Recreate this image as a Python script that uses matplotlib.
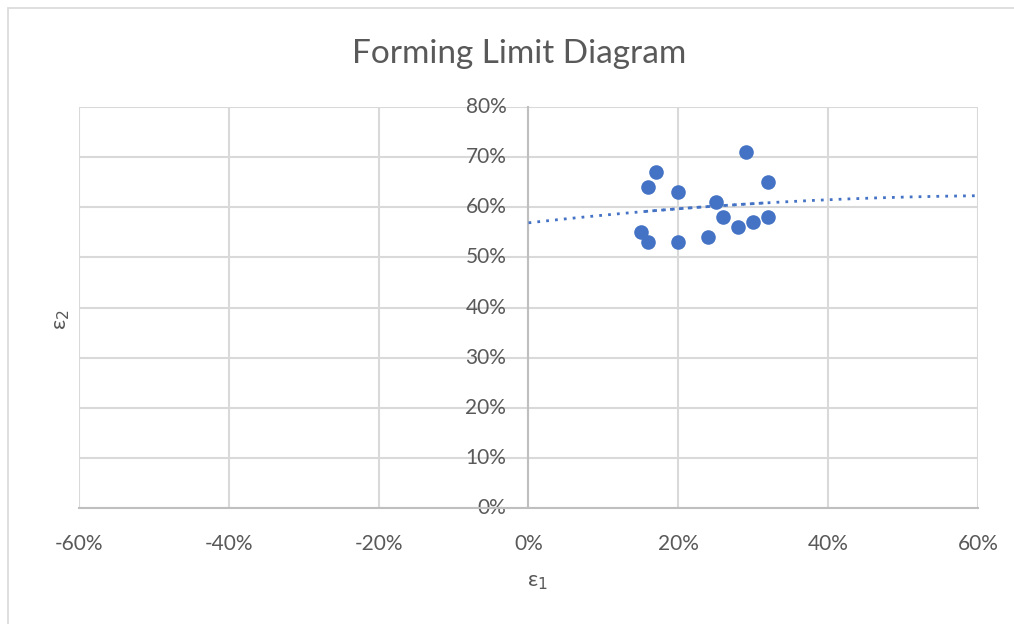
#!/usr/bin/env python3
"""Forming limit diagram: scatter of strain points with a dotted polynomial trendline"""

import matplotlib.pyplot as plt
import matplotlib.patches as patches
from matplotlib.ticker import PercentFormatter
import numpy as np

# strain points (fractions)
eps1 = [0.15, 0.16, 0.16, 0.17, 0.20, 0.20, 0.24, 0.25, 0.26, 0.28, 0.29, 0.30, 0.32, 0.32]
eps2 = [0.55, 0.53, 0.64, 0.67, 0.63, 0.53, 0.54, 0.61, 0.58, 0.56, 0.71, 0.57, 0.65, 0.58]

# trendline coefficients (2nd order polynomial)
trend_coef = [-0.125, 0.165, 0.569]
trend_range = [0.0, 0.6]

x_ticks = [-0.6, -0.4, -0.2, 0.0, 0.2, 0.4, 0.6]
y_ticks = [0.0, 0.1, 0.2, 0.3, 0.4, 0.5, 0.6, 0.7, 0.8]

FONT = ['Lato', 'DejaVu Sans']
TEXT_COLOR = '#595959'
GRID_COLOR = '#d9d9d9'
BLUE = '#4472c4'

plt.rcParams['font.family'] = FONT
plt.rcParams['axes.unicode_minus'] = False

fig = plt.figure(figsize=(10.14, 6.24), dpi=100)
ax = fig.add_axes([0.0779, 0.1859, 0.8866, 0.6426])

# outer chart frame
fig.patches.append(patches.Rectangle((8 / 1014, -0.05), 1.2, 1.05 - 8 / 624,
                                     transform=fig.transFigure, fill=False,
                                     edgecolor=GRID_COLOR, linewidth=1.2))

ax.scatter(eps1, eps2, s=110, color=BLUE, zorder=3, linewidths=0)

# trendline, drawn from the fitted coefficients
tx = np.linspace(trend_range[0], trend_range[1], 200)
ax.plot(tx, np.polyval(trend_coef, tx), color=BLUE, linestyle=(0, (1, 2.2)),
        linewidth=2, zorder=2)
dx = np.linspace(min(eps1), max(eps1), 100)
ax.plot(dx, np.polyval(trend_coef, dx), color=BLUE, linestyle=(1.6, (1, 2.2)),
        linewidth=2, zorder=2)

ax.set_xlim(x_ticks[0], x_ticks[-1])
ax.set_ylim(y_ticks[0], y_ticks[-1])
ax.set_xticks(x_ticks)
ax.set_yticks(y_ticks)
ax.xaxis.set_major_formatter(PercentFormatter(1.0, decimals=0))
ax.yaxis.set_major_formatter(PercentFormatter(1.0, decimals=0))

ax.grid(True, color=GRID_COLOR, linewidth=1.5)
ax.set_axisbelow(True)
for side in ['top', 'right']:
    ax.spines[side].set_visible(False)
ax.spines['left'].set_position(('data', 0))
ax.spines['left'].set_color('#bfbfbf')
ax.spines['bottom'].set_color('#bfbfbf')
ax.spines['left'].set_linewidth(1.5)
ax.spines['bottom'].set_linewidth(1.5)
ax.spines['left'].set_zorder(1)

ax.tick_params(axis='both', length=0, labelsize=15, labelcolor=TEXT_COLOR)
ax.tick_params(axis='y', pad=16)
ax.tick_params(axis='x', pad=19)
for lbl in ax.get_yticklabels():
    lbl.set_verticalalignment('center')

fig.text(0.512, 0.913, 'Forming Limit Diagram', ha='center', va='center',
         fontsize=24, color=TEXT_COLOR)
fig.text(0.5295, 0.068, 'ε$_1$', ha='center', va='center', fontsize=16,
         color=TEXT_COLOR)
fig.text(0.061, 0.487, 'ε$_2$', ha='center', va='center', fontsize=16,
         color=TEXT_COLOR, rotation=90)

fig.savefig('out.png', dpi=100)
